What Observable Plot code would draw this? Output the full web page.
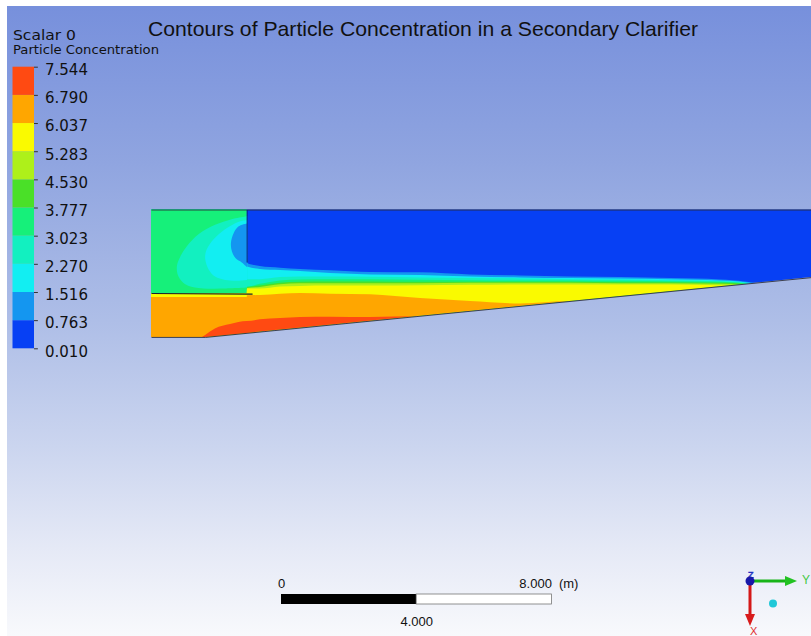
<!DOCTYPE html>
<html>
<head>
<meta charset="utf-8">
<script src="https://cdn.jsdelivr.net/npm/d3@7"></script>
<script src="https://cdn.jsdelivr.net/npm/@observablehq/plot@0.6"></script>
<style>
  html, body { margin: 0; padding: 0; background: #ffffff; overflow: hidden; }
  #stage { position: relative; width: 811px; height: 636px; overflow: hidden; background: #ffffff; }
  #bg { position: absolute; left: 7px; top: 6px; right: 0; bottom: 0;
        background: linear-gradient(180deg, #7790dc 0%, #90a5e0 25%, #aebee7 50%, #cbd5ef 70%, #e5e9f6 86%, #f8f9fc 100%); }
  #main, #legend, #overlay { position: absolute; left: 0; top: 0; }
</style>
</head>
<body>
<div id="stage">
  <div id="bg"></div>
  <div id="main"></div>
  <div id="legend"></div>
  <svg id="overlay" width="811" height="636" viewBox="0 0 811 636">
    <text x="148" y="36" textLength="550" lengthAdjust="spacingAndGlyphs" font-family="Liberation Sans, Arial, sans-serif" font-size="21" fill="#111">Contours of Particle Concentration in a Secondary Clarifier</text>
    <text x="13" y="39.5" textLength="63" lengthAdjust="spacingAndGlyphs" font-family="DejaVu Sans, sans-serif" font-size="14.5" fill="#111">Scalar 0</text>
    <text x="13" y="54" textLength="146" lengthAdjust="spacingAndGlyphs" font-family="DejaVu Sans, sans-serif" font-size="12.5" fill="#111">Particle Concentration</text>
    <!-- orientation triad -->
    <line x1="750" y1="581" x2="786" y2="581" stroke="#18b418" stroke-width="3"/>
    <polygon points="785,576 797,581 785,586" fill="#22c222"/>
    <text x="802" y="584" font-family="Liberation Sans, Arial, sans-serif" font-size="12" fill="#44c844">Y</text>
    <line x1="750" y1="581" x2="750" y2="615" stroke="#d41818" stroke-width="3"/>
    <polygon points="745,614 755,614 750,626" fill="#d81c1c"/>
    <text x="750" y="635" font-family="Liberation Sans, Arial, sans-serif" font-size="11" fill="#e03030">X</text>
    <text x="748" y="578" font-family="Liberation Sans, Arial, sans-serif" font-size="9" fill="none" stroke="#2030c0" stroke-width="0.7">Z</text>
    <circle cx="750" cy="581" r="4.5" fill="#1818a8"/>
    <circle cx="773" cy="603.5" r="4" fill="#20c8d8"/>
  </svg>
</div>
<script>
// ---------------- data ----------------
// contour levels of the legend (Particle Concentration)
const levels = [0.010, 0.763, 1.516, 2.270, 3.023, 3.777, 4.530, 5.283, 6.037, 6.790, 7.544];
// colour of each band, from lowest to highest
const bandColors = ["#0740f4", "#1496f0", "#12eef2", "#12f0c0", "#16f07a", "#4ae028", "#aef01a", "#fafa00", "#ffa600", "#ff4a12"];

// horizontal stations along the clarifier (m from inlet wall)
const stationX = [0, 1.51, 1.60, 1.89, 2.34, 2.83, 2.84, 3.22, 3.82, 4.41, 5.30, 6.48, 7.96, 9.44, 10.92, 12.40, 13.88, 15.36, 16.83, 17.57, 18.02, 19.53, 20.20];
// depth (m below surface) at which each contour level is crossed at each station
const depth0763 = [-0.1, -0.1, -0.1, -0.1, -0.1, -0.1, 1.58, 1.67, 1.72, 1.76, 1.80, 1.85, 1.86, 1.92, 1.95, 1.98, 2.00, 2.03, 2.07, 2.13, 2.22, 4.2, 4.2];
const depth1516 = [-0.1, -0.1, -0.1, -0.1, -0.1, -0.1, 1.69, 1.76, 1.79, 1.82, 1.88, 1.92, 1.94, 1.98, 2.01, 2.03, 2.04, 2.06, 2.10, 2.15, 2.24, 4.2, 4.2];
const depth2270 = [-0.1, -0.1, -0.1, -0.1, -0.1, -0.1, 2.06, 2.06, 2.00, 1.98, 1.98, 1.99, 2.01, 2.03, 2.04, 2.06, 2.07, 2.09, 2.12, 2.17, 2.26, 4.2, 4.2];
const depth3023 = [-0.1, -0.1, -0.1, -0.1, -0.1, -0.1, 2.28, 2.20, 2.10, 2.07, 2.06, 2.06, 2.08, 2.09, 2.10, 2.10, 2.11, 2.12, 2.14, 2.19, 2.28, 4.2, 4.2];
const depth3777 = [2.47, 2.47, 2.47, 2.47, 2.47, 2.47, 2.30, 2.25, 2.17, 2.14, 2.13, 2.13, 2.14, 2.14, 2.14, 2.14, 2.15, 2.15, 2.17, 2.20, 2.30, 4.2, 4.2];
const depth4530 = [2.47, 2.47, 2.47, 2.47, 2.47, 2.47, 2.32, 2.29, 2.21, 2.18, 2.18, 2.18, 2.18, 2.17, 2.17, 2.17, 2.18, 2.18, 2.20, 2.22, 2.32, 4.2, 4.2];
const depth5283 = [2.48, 2.48, 2.48, 2.48, 2.48, 2.48, 2.34, 2.34, 2.28, 2.26, 2.25, 2.25, 2.24, 2.23, 2.22, 2.22, 2.22, 2.22, 2.24, 2.23, 2.34, 4.2, 4.2];
const depth6037 = [2.59, 2.59, 2.59, 2.59, 2.59, 2.59, 2.54, 2.53, 2.49, 2.47, 2.49, 2.51, 2.62, 2.71, 2.78, 2.71, 4.2, 4.2, 4.2, 4.2, 4.2, 4.2, 4.2];
const depth6790 = [4.2, 3.77, 3.71, 3.52, 3.39, 3.30, 3.30, 3.25, 3.21, 3.18, 3.17, 3.18, 3.16, 4.2, 4.2, 4.2, 4.2, 4.2, 4.2, 4.2, 4.2, 4.2, 4.2];

// inlet-zone contour shapes (x m, depth m)
const aquaX = [2.83, 2.78, 2.37, 1.88, 1.39, 1.04, 0.85, 0.75, 0.80, 1.00, 1.39, 2.04, 2.83];
const aquaD = [0.18, 0.19, 0.27, 0.44, 0.72, 1.08, 1.38, 1.67, 1.97, 2.20, 2.31, 2.32, 2.29];
const cyanX = [2.83, 2.72, 2.48, 2.08, 1.78, 1.61, 1.59, 1.69, 1.88, 2.18, 2.57, 2.83];
const cyanD = [0.30, 0.31, 0.39, 0.64, 0.93, 1.23, 1.46, 1.76, 1.97, 2.07, 2.09, 2.07];
const lightBlueX = [2.83, 2.57, 2.43, 2.35, 2.38, 2.49, 2.67, 2.83];
const lightBlueD = [0.40, 0.49, 0.69, 0.98, 1.23, 1.43, 1.55, 1.69];

// tank geometry (x m, depth m)
const tankX = [0, 20.2, 20.2, 1.60, 0];
const tankD = [0, 0, 1.934, 3.77, 3.77];
const baffleX = [0, 2.99];
const baffleD = [2.47, 2.49];
const wallX = [2.83, 2.83];
const wallD = [0, 1.55];

// scale bar values (m)
const scaleBarValues = [0, 4, 8];

// ---------------- layout ----------------
const W = 811, H = 636;
const pxPerM = 33.8;
const originPx = [151, 209.5];
const xDomain = [-originPx[0] / pxPerM, (W - originPx[0]) / pxPerM];
const yDomain = [-originPx[1] / pxPerM, (H - originPx[1]) / pxPerM];
const deep = 4.3;
const barX0 = (281 - originPx[0]) / pxPerM;
const barTop = (594 - originPx[1]) / pxPerM;
const barBottom = (604 - originPx[1]) / pxPerM;
const font = "Liberation Sans, Arial, sans-serif";

const depthCurves = [depth0763, depth1516, depth2270, depth3023, depth3777, depth4530, depth5283, depth6037, depth6790];

const baseRows = stationX.map(x => ({x}));
const layerMarks = depthCurves.map((curve, k) =>
  Plot.areaY(stationX.map((x, i) => ({x, top: curve[i]})), {
    x: "x", y1: "top", y2: deep, fill: bandColors[k + 1], curve: "monotone-x"
  })
);
const shape = (xs, ds) => xs.map((x, i) => ({x, d: ds[i]}));

const outlineSegs = [];
for (let i = 0; i < tankX.length - 1; i++) {
  if (i === 1) continue; // right end is outside the view
  outlineSegs.push({x1: tankX[i], y1: tankD[i], x2: tankX[i + 1], y2: tankD[i + 1]});
}

const main = Plot.plot({
  width: W, height: H, margin: 0,
  x: {domain: xDomain, range: [0, W], axis: null},
  y: {domain: yDomain, range: [0, H], axis: null},
  style: {background: "transparent"},
  marks: [
    Plot.areaY(baseRows, {x: "x", y1: -0.2, y2: deep, fill: bandColors[0]}),
    ...layerMarks,
    Plot.line(shape(aquaX, aquaD), {x: "x", y: "d", fill: bandColors[3], stroke: "none", curve: "catmull-rom"}),
    Plot.line(shape(cyanX, cyanD), {x: "x", y: "d", fill: bandColors[2], stroke: "none", curve: "catmull-rom"}),
    Plot.line(shape(lightBlueX, lightBlueD), {x: "x", y: "d", fill: bandColors[1], stroke: "none", curve: "catmull-rom"}),
    Plot.link(outlineSegs, {x1: "x1", y1: "y1", x2: "x2", y2: "y2", stroke: "#2a2a34", strokeWidth: 1, strokeOpacity: 0.85}),
    Plot.link([{x1: baffleX[0], y1: baffleD[0], x2: baffleX[1], y2: baffleD[1]}], {x1: "x1", y1: "y1", x2: "x2", y2: "y2", stroke: "#1a2030", strokeWidth: 1.1}),
    Plot.link([{x1: wallX[0], y1: wallD[0], x2: wallX[1], y2: wallD[1]}], {x1: "x1", y1: "y1", x2: "x2", y2: "y2", stroke: "#0c1c78", strokeWidth: 1.2, strokeOpacity: 0.8}),
    // scale bar
    Plot.rect([scaleBarValues[0]], {x1: d => barX0 + d, x2: barX0 + scaleBarValues[1], y1: barTop, y2: barBottom, fill: "#000"}),
    Plot.rect([scaleBarValues[1]], {x1: d => barX0 + d, x2: barX0 + scaleBarValues[2], y1: barTop, y2: barBottom, fill: "#fff", stroke: "#777", strokeWidth: 0.8}),
    Plot.text([scaleBarValues[0]], {x: d => barX0 + d, y: barTop, dy: -10.5, text: d => String(d), fontSize: 13, fontFamily: font, fill: "#111"}),
    Plot.text([scaleBarValues[2]], {x: d => barX0 + d, y: barTop, dy: -10.5, text: d => d.toFixed(3), textAnchor: "end", fontSize: 13, fontFamily: font, fill: "#111"}),
    Plot.text([scaleBarValues[2]], {x: d => barX0 + d, y: barTop, dy: -10.5, dx: 7, text: () => "(m)", textAnchor: "start", fontSize: 13, fontFamily: font, fill: "#111"}),
    Plot.text([scaleBarValues[1]], {x: d => barX0 + d, y: barBottom, dy: 17.5, text: d => d.toFixed(3), fontSize: 13, fontFamily: font, fill: "#111"})
  ]
});

// clip the contour fills to the tank outline
(function clipToTank() {
  const sx = d3.scaleLinear(xDomain, [0, W]);
  const sy = d3.scaleLinear(yDomain, [0, H]);
  const svg = d3.select(main);
  const defs = svg.insert("defs", ":first-child");
  defs.append("clipPath").attr("id", "tankClip")
    .append("path")
    .attr("d", d3.line()(tankX.map((x, i) => [sx(x), sy(tankD[i])])) + "Z");
  const areas = svg.selectAll('g[aria-label="area"]').nodes();
  if (areas.length) {
    const wrap = svg.insert("g", () => areas[0]).attr("clip-path", "url(#tankClip)");
    areas.forEach(n => wrap.node().appendChild(n));
  }
})();
document.getElementById("main").appendChild(main);

// ---------------- legend (colour bar) ----------------
const bands = levels.slice(0, -1).map((lo, i) => ({lo, hi: levels[i + 1], color: bandColors[i]}));
const legend = Plot.plot({
  width: 130, height: 370, margin: 0,
  x: {domain: [0, 1], range: [12.5, 34], axis: null},
  y: {domain: [levels[0], levels[levels.length - 1]], range: [348.3, 66.7], axis: null},
  color: {type: "identity"},
  style: {background: "transparent"},
  marks: [
    Plot.rect(bands, {x1: 0, x2: 1, y1: "lo", y2: "hi", fill: "color"}),
    Plot.ruleY(levels, {x1: 1, x2: 1.18, stroke: "#333", strokeWidth: 1}),
    Plot.text(levels, {x: 1, y: d => d, dx: 10.5, dy: 3, text: d => d.toFixed(3), textAnchor: "start", fontSize: 15, fontFamily: "DejaVu Sans, sans-serif", fill: "#111"})
  ]
});
document.getElementById("legend").appendChild(legend);
</script>
</body>
</html>
